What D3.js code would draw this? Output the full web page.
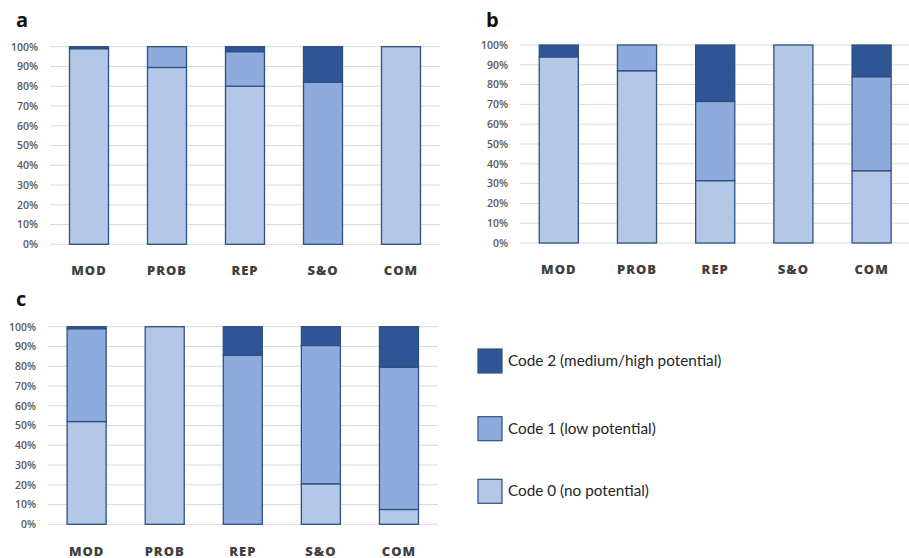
<!DOCTYPE html>
<html><head><meta charset="utf-8">
<script src="https://cdn.jsdelivr.net/npm/d3@7"></script>
<style>body{margin:0;background:#fff}svg{display:block}</style>
</head><body>
<svg id="chart" width="909" height="558"></svg>
<script>
const categories = ["MOD", "PROB", "REP", "S&O", "COM"];
const seriesKeys = ["code0", "code1", "code2"];
const legendLabels = ["Code 0 (no potential)", "Code 1 (low potential)", "Code 2 (medium/high potential)"];
const yTicks = [0, 10, 20, 30, 40, 50, 60, 70, 80, 90, 100];
const panelNames = ["a", "b", "c"];

// percentages per category (MOD, PROB, REP, S&O, COM)
const aCode0 = [99, 89.5, 80, 0, 100];
const aCode1 = [0, 10.5, 17.5, 82, 0];
const aCode2 = [1, 0, 2.5, 18, 0];

const bCode0 = [94, 87, 31.5, 100, 36.5];
const bCode1 = [0, 13, 40, 0, 47.5];
const bCode2 = [6, 0, 28.5, 0, 16];

const cCode0 = [52, 100, 0, 20.5, 7.5];
const cCode1 = [47, 0, 85.5, 70, 72];
const cCode2 = [1, 0, 14.5, 9.5, 20.5];

const panelData = [
  [aCode0, aCode1, aCode2],
  [bCode0, bCode1, bCode2],
  [cCode0, cCode1, cCode2]
];

const colors = {code0: "#b4c7e7", code1: "#8faadc", code2: "#2f5597"};
const strokeColor = "#2c5282";

const layout = [
  {x0: 50, x1: 440, yTop: 46.7, yBot: 244.3, gx1: 440, tickX: 38, catY: 275, lx: 16, ly: 27.3},
  {x0: 519.7, x1: 910.7, yTop: 45, yBot: 243, gx1: 909, tickX: 508, catY: 274, lx: 486, ly: 27},
  {x0: 47.6, x1: 438, yTop: 326.7, yBot: 524.3, gx1: 438, tickX: 36, catY: 555.5, lx: 16, ly: 306}
];

const svg = d3.select("#chart");

panelData.forEach((arrs, pi) => {
  const L = layout[pi];
  const rows = categories.map((c, i) => {
    const r = {cat: c};
    seriesKeys.forEach((k, ki) => r[k] = arrs[ki][i]);
    return r;
  });
  const x = d3.scaleBand().domain(categories).range([L.x0, L.x1]).paddingInner(0.5).paddingOuter(0.25);
  const y = d3.scaleLinear().domain([0, 100]).range([L.yBot, L.yTop]);
  const g = svg.append("g");

  // gridlines
  g.selectAll("line.grid").data(yTicks).join("line")
    .attr("x1", L.x0).attr("x2", L.gx1)
    .attr("y1", d => y(d)).attr("y2", d => y(d))
    .attr("stroke", "#d9d9d9").attr("stroke-width", 1);

  // y axis labels
  const yAxis = d3.axisLeft(y).tickValues(yTicks).tickFormat(d => d + "%").tickSize(0).tickPadding(0);
  const ya = g.append("g").attr("transform", `translate(${L.tickX},0)`).call(yAxis);
  ya.select(".domain").remove();
  ya.selectAll("text").attr("font-family", "Open Sans").attr("font-size", 10.5)
    .attr("fill", "#595959").attr("font-weight", 600);

  // stacked bars
  const stack = d3.stack().keys(seriesKeys)(rows);
  stack.forEach(layer => {
    g.selectAll(null).data(layer.filter(d => d[1] - d[0] > 0)).join("rect")
      .attr("x", d => x(d.data.cat))
      .attr("width", x.bandwidth())
      .attr("y", d => y(d[1]))
      .attr("height", d => y(d[0]) - y(d[1]))
      .attr("fill", colors[layer.key])
      .attr("stroke", strokeColor).attr("stroke-width", 1.3);
  });

  // category labels
  g.selectAll("text.cat").data(categories).join("text")
    .attr("x", d => x(d) + x.bandwidth() / 2).attr("y", L.catY)
    .attr("text-anchor", "middle")
    .attr("font-family", "Open Sans").attr("font-weight", 800).attr("font-size", 13)
    .attr("letter-spacing", 1)
    .attr("fill", "#404040").text(d => d);

  // panel letter
  svg.append("text").attr("x", L.lx).attr("y", L.ly)
    .attr("font-family", "Open Sans").attr("font-weight", 700).attr("font-size", 20)
    .attr("fill", "#111").text(panelNames[pi]);
});

// legend
const legendOrder = [2, 1, 0];
const legY = [349, 416.7, 479.3];
const lg = svg.append("g");
legendOrder.forEach((ki, i) => {
  lg.append("rect").attr("x", 478).attr("y", legY[i]).attr("width", 24).attr("height", 24)
    .attr("fill", colors[seriesKeys[ki]]).attr("stroke", strokeColor).attr("stroke-width", 1.2);
  lg.append("text").attr("x", 508).attr("y", legY[i] + 17)
    .attr("font-family", "Lato").attr("font-size", 15.3).attr("fill", "#262626")
    .text(legendLabels[ki]);
});
</script>
</body></html>
